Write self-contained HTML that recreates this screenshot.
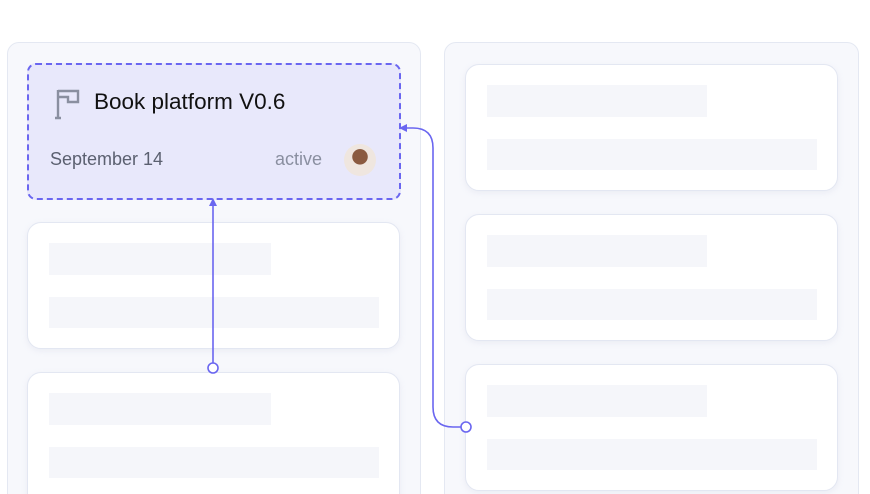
<!DOCTYPE html>
<html><head><style>
html,body{margin:0;width:870px;height:494px;overflow:hidden}
body{background:#fff;position:relative;font-family:"Liberation Sans",sans-serif}
.col{position:absolute;top:42px;height:470px;background:#f7f8fc;border:1px solid #e4e8f2;border-radius:12px;box-sizing:border-box}
.card{position:absolute;background:#fff;border:1px solid #e3e7f2;border-radius:14px;box-sizing:border-box;box-shadow:0 2px 6px rgba(200,205,225,.25)}
.bar{position:absolute;background:#f5f6fa}
</style></head><body>
<div class="col" style="left:7px;width:414px"></div>
<div class="col" style="left:444px;width:415px"></div>
<div class="card" style="left:27px;top:63px;width:374px;height:137px;background:#e8e8fb;border:2px dashed #6a66f0;border-radius:9px;box-shadow:none">
 <svg style="position:absolute;left:25px;top:23px" width="28" height="32" viewBox="0 0 28 32"><path d="M4 2V30M1 30h6M4 3h20v11H14V9H4" fill="none" stroke="#8a8fa0" stroke-width="2.4"/></svg>
 <div style="position:absolute;left:65px;top:24px;font-size:22.5px;color:#111">Book platform V0.6</div>
 <div style="position:absolute;left:21px;top:84px;font-size:18px;color:#5b6070">September 14</div>
 <div style="position:absolute;left:246px;top:84px;font-size:18px;color:#8a8fa0">active</div>
 <div style="position:absolute;left:315px;top:79px;width:32px;height:32px;border-radius:50%;background:radial-gradient(circle at 50% 40%,#8a5a40 0 30%,#efe6df 32%)"></div>
</div>
<div class="card" style="left:27px;top:222px;width:373px;height:127px"><div class="bar" style="left:21px;top:20px;width:222px;height:32px"></div><div class="bar" style="left:21px;top:74px;width:330px;height:31px"></div></div>
<div class="card" style="left:27px;top:372px;width:373px;height:140px"><div class="bar" style="left:21px;top:20px;width:222px;height:32px"></div><div class="bar" style="left:21px;top:74px;width:330px;height:31px"></div></div>
<div class="card" style="left:465px;top:64px;width:373px;height:127px"><div class="bar" style="left:21px;top:20px;width:220px;height:32px"></div><div class="bar" style="left:21px;top:74px;width:330px;height:31px"></div></div>
<div class="card" style="left:465px;top:214px;width:373px;height:127px"><div class="bar" style="left:21px;top:20px;width:220px;height:32px"></div><div class="bar" style="left:21px;top:74px;width:330px;height:31px"></div></div>
<div class="card" style="left:465px;top:364px;width:373px;height:127px"><div class="bar" style="left:21px;top:20px;width:220px;height:32px"></div><div class="bar" style="left:21px;top:74px;width:330px;height:31px"></div></div>
<svg style="position:absolute;left:0;top:0" width="870" height="494">
 <g fill="none" stroke="#6a66f0" stroke-width="1.6">
  <path d="M213 363V204"/>
  <path d="M461 427h-8q-20 0 -20 -20V148q0 -20 -20 -20h-8"/>
 </g>
 <polygon points="213,198 209,206 217,206" fill="#6a66f0"/>
 <polygon points="399,128 407,124 407,132" fill="#6a66f0"/>
 <circle cx="213" cy="368" r="5" fill="#fff" stroke="#6a66f0" stroke-width="1.6"/>
 <circle cx="466" cy="427" r="5" fill="#fff" stroke="#6a66f0" stroke-width="1.6"/>
</svg>
</body></html>
